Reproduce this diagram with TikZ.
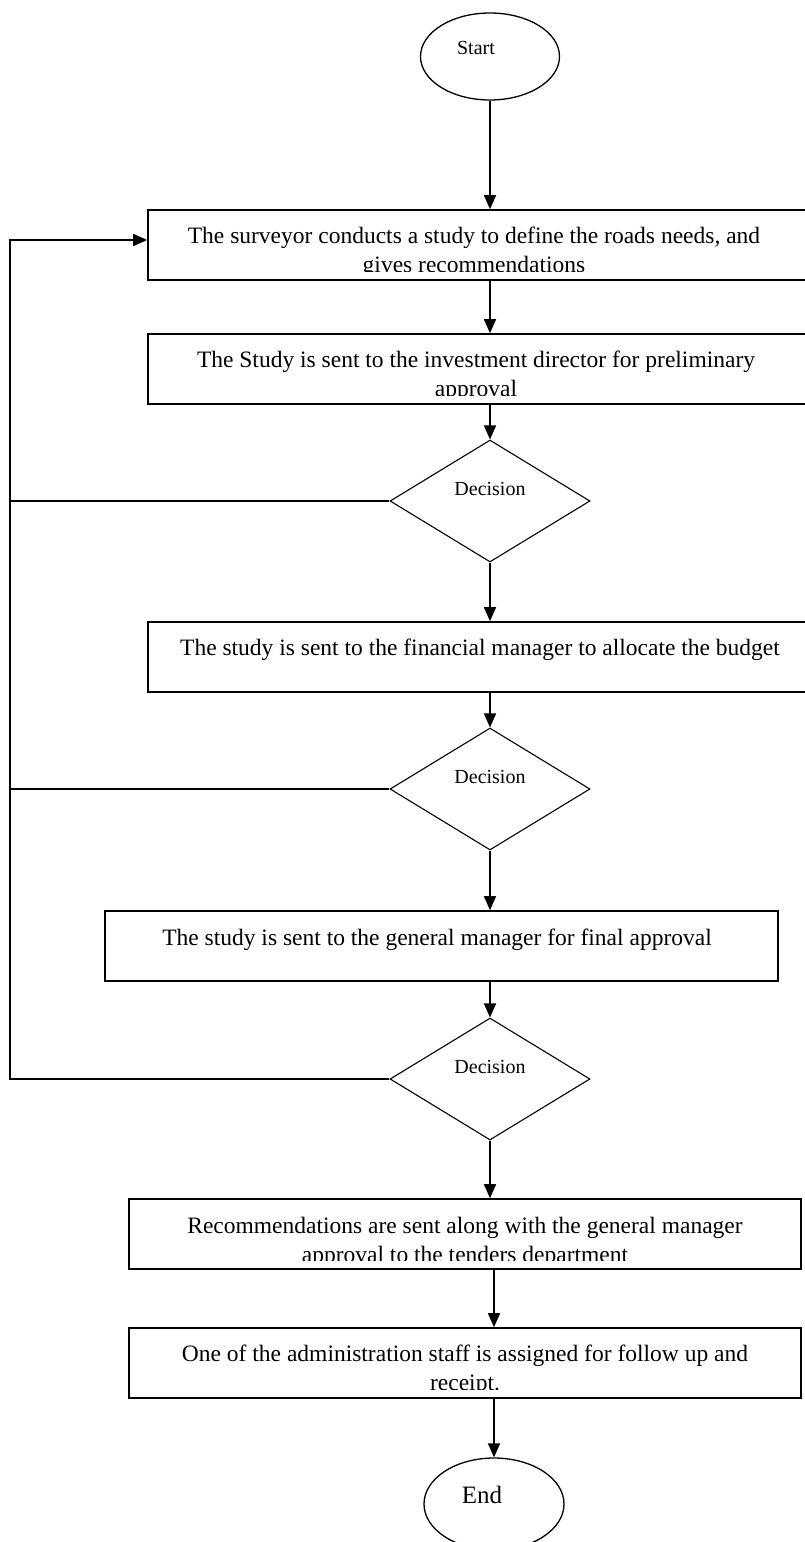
\documentclass[tikz,border=0pt]{standalone}
\usepackage{fontspec}
\setmainfont{Liberation Serif}
\usetikzlibrary{arrows.meta, positioning, calc, shapes.geometric}

\begin{document}
\begin{tikzpicture}[x=1pt, y=-1pt, >={Triangle[length=14pt, width=12pt]},
  box/.style={draw, line width=1.6pt, rectangle, inner sep=0pt,
    minimum height=70pt},
  oval/.style={draw, line width=1.3pt, ellipse, inner sep=0pt},
  decide/.style={draw, line width=1.1pt, diamond, inner sep=0pt,
    minimum width=200pt, minimum height=122pt},
  flow/.style={line width=1.5pt},
  boxtext/.style={font=\fontsize{23.5}{28.5}\selectfont, align=center,
    inner sep=0pt, anchor=north},
  smalltext/.style={font=\fontsize{20}{24}\selectfont, inner sep=0pt}]

  \useasboundingbox (0,0) rectangle (805,1542);
  \clip (0,0) rectangle (805,1542);

  % --- terminals ---
  \node[oval, minimum width=139pt, minimum height=87pt] (start) at (490,56.5) {};
  \node[smalltext] (startlbl) at ([xshift=-14pt, yshift=9pt]start.center) {Start};

  \node[oval, minimum width=140pt, minimum height=92pt] (end) at (494,1504) {};
  \node[font=\fontsize{25}{30}\selectfont, inner sep=0pt] (endlbl)
    at ([xshift=-12pt, yshift=9pt]end.center) {End};

  % --- process boxes (text clipped by the box, as in the original) ---
  \node[box, minimum width=682pt] (b1) at (489,245) {};
  \begin{scope}
    \clip (148,210) rectangle (805,271);
    \node[boxtext] (t1) at (474,227)
      {The surveyor conducts a study to define the roads needs, and\\
       gives recommendations};
  \end{scope}

  \node[box, minimum width=682pt] (b2) at (489,369) {};
  \begin{scope}
    \clip (148,334) rectangle (805,395);
    \node[boxtext] (t2) at (476,351)
      {The Study is sent to the investment director for preliminary\\
       approval};
  \end{scope}

  \node[box, minimum width=682pt] (b3) at (489,657) {};
  \node[boxtext] (t3) at (480,639)
    {The study is sent to the financial manager to allocate the budget};

  \node[box, minimum width=673pt] (b4) at (441.5,946) {};
  \node[boxtext] (t4) at (437,929)
    {The study is sent to the general manager for final approval};

  \node[box, minimum width=672pt] (b5) at (465,1234) {};
  \begin{scope}
    \clip (129,1199) rectangle (801,1260);
    \node[boxtext] (t5) at (465,1217)
      {Recommendations are sent along with the general manager\\
       approval to the tenders department};
  \end{scope}

  \node[box, minimum width=672pt] (b6) at (465,1363) {};
  \begin{scope}
    \clip (129,1328) rectangle (801,1389);
    \node[boxtext] (t6) at (465,1345)
      {One of the administration staff is assigned for follow up and\\
       receipt.};
  \end{scope}

  % --- decisions ---
  \node[decide] (d1) at (490,501) {};
  \node[smalltext] (l1) at ([yshift=12pt]d1.center) {Decision};

  \node[decide] (d2) at (490,789) {};
  \node[smalltext] (l2) at ([yshift=12pt]d2.center) {Decision};

  \node[decide] (d3) at (490,1079) {};
  \node[smalltext] (l3) at ([yshift=12pt]d3.center) {Decision};

  % --- main flow ---
  \draw[flow, ->] (start.south) -- (start.south |- b1.north);
  \draw[flow, ->] (b1.south -| start.south) -- (b2.north -| start.south);
  \draw[flow, ->] (b2.south -| d1.north) -- (d1.north);
  \draw[flow, ->] (d1.south) -- (b3.north -| d1.south);
  \draw[flow, ->] (b3.south -| d2.north) -- (d2.north);
  \draw[flow, ->] (d2.south) -- (b4.north -| d2.south);
  \draw[flow, ->] (b4.south -| d3.north) -- (d3.north);
  \draw[flow, ->] (d3.south) -- (b5.north -| d3.south);
  \draw[flow, ->] (b5.south -| end.north) -- (b6.north -| end.north);
  \draw[flow, ->] (b6.south -| end.north) -- (end.north);

  % --- rejection loop back to the survey ---
  \coordinate (loop) at (10,240);
  \draw[flow] (d1.west) -- (d1.west -| loop);
  \draw[flow] (d2.west) -- (d2.west -| loop);
  \draw[flow, ->] (d3.west) -| (loop) -- (loop -| b1.west);

\end{tikzpicture}
\end{document}
